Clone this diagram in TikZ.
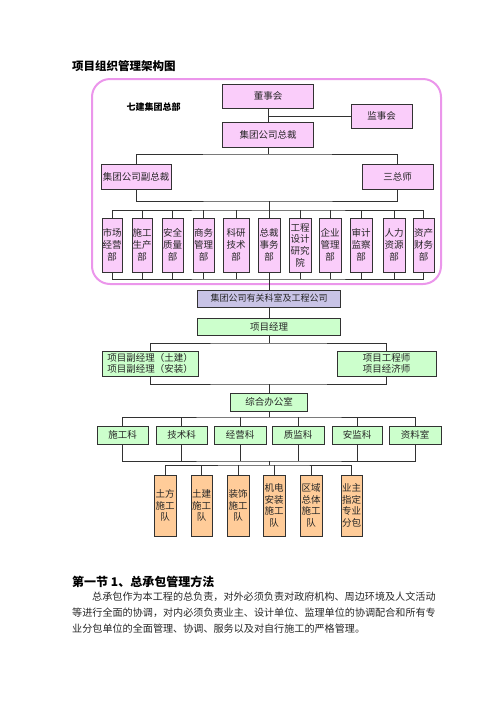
\documentclass[tikz,border=0pt]{standalone}
\usepackage{fontspec}
\setmainfont{Noto Sans CJK SC}
\definecolor{pinkfill}{RGB}{250,205,250}
\definecolor{pinkline}{RGB}{235,150,235}
\definecolor{purplefill}{RGB}{200,195,230}
\definecolor{greenfill}{RGB}{204,255,204}
\definecolor{orangefill}{RGB}{255,204,153}
\definecolor{boxline}{RGB}{50,50,50}
\begin{document}
\begin{tikzpicture}[x=1pt,y=-1pt,
		box/.style={draw=boxline, line width=0.8pt, inner sep=0pt, align=center, text=black!85, font=\fontsize{9.5}{11.7}\selectfont},
		pinkbox/.style={box, fill=pinkfill},
		purplebox/.style={box, fill=purplefill, font=\fontsize{9}{11}\selectfont},
		greenbox/.style={box, fill=greenfill},
		orangebox/.style={box, fill=orangefill},
		link/.style={draw=boxline, line width=0.8pt},
		plain/.style={anchor=west, inner sep=0pt, text=black!85, font=\fontsize{10.1}{12}\selectfont}]
		\useasboundingbox (0,0) rectangle (496,702);
		\node[anchor=west, inner sep=0pt, font=\bfseries\fontsize{11.5}{13}\selectfont] (title) at (72,66) {项目组织管理架构图};
		\draw[pinkline, line width=2pt, rounded corners=18pt] (92,79) rectangle (441,284);
		\node[inner sep=0pt, font=\bfseries\fontsize{9}{11}\selectfont] (hq) at (153.5,107) {七建集团总部};
		\node[pinkbox, minimum width=91, minimum height=24] (dsh) at (268,96) {董事会};
		\node[pinkbox, minimum width=61, minimum height=24] (jsh) at (381.5,116) {监事会};
		\node[pinkbox, minimum width=91, minimum height=25] (zc) at (268,134.5) {集团公司总裁};
		\node[pinkbox, minimum width=70, minimum height=25] (fzc) at (136,176.5) {集团公司副总裁};
		\node[pinkbox, minimum width=71, minimum height=25] (szs) at (397.5,176.5) {三总师};
		\node[pinkbox, minimum width=20, minimum height=54] (d1) at (112,245) {市场\\经营\\部};
		\node[pinkbox, minimum width=20, minimum height=54] (d2) at (142,245) {施工\\生产\\部};
		\node[pinkbox, minimum width=21, minimum height=54] (d3) at (172.5,245) {安全\\质量\\部};
		\node[pinkbox, minimum width=21, minimum height=54] (d4) at (203.5,245) {商务\\管理\\部};
		\node[pinkbox, minimum width=26, minimum height=54] (d5) at (236,245) {科研\\技术\\部};
		\node[pinkbox, minimum width=22, minimum height=54] (d6) at (269,245) {总裁\\事务\\部};
		\node[pinkbox, minimum width=22, minimum height=54] (d7) at (300,245) {工程\\设计\\研究\\院};
		\node[pinkbox, minimum width=22, minimum height=54] (d8) at (330,245) {企业\\管理\\部};
		\node[pinkbox, minimum width=22, minimum height=54] (d9) at (361,245) {审计\\监察\\部};
		\node[pinkbox, minimum width=22, minimum height=54] (d10) at (394,245) {人力\\资源\\部};
		\node[pinkbox, minimum width=21, minimum height=54] (d11) at (423.5,245) {资产\\财务\\部};
		\node[purplebox, minimum width=143, minimum height=17] (gs) at (269,298.5) {集团公司有关科室及工程公司};
		\node[greenbox, minimum width=143, minimum height=17] (xm) at (269,326.5) {项目经理};
		\node[greenbox, minimum width=96, minimum height=25] (fjl) at (150,363.5) {项目副经理（土建）\\项目副经理（安装）};
		\node[greenbox, minimum width=99, minimum height=25] (gcs) at (386.5,363.5) {项目工程师\\项目经济师};
		\node[greenbox, minimum width=77, minimum height=18] (zh) at (269,402) {综合办公室};
		\node[greenbox, minimum width=51, minimum height=18] (k1) at (122.5,435) {施工科};
		\node[greenbox, minimum width=51, minimum height=18] (k2) at (181.5,435) {技术科};
		\node[greenbox, minimum width=52, minimum height=18] (k3) at (240,435) {经营科};
		\node[greenbox, minimum width=52, minimum height=18] (k4) at (298,435) {质监科};
		\node[greenbox, minimum width=50, minimum height=18] (k5) at (357,435) {安监科};
		\node[greenbox, minimum width=52, minimum height=18] (k6) at (415,435) {资料室};
		\node[orangebox, minimum width=22, minimum height=61] (t1) at (165,505.5) {土方\\施工\\队};
		\node[orangebox, minimum width=21, minimum height=61] (t2) at (201.5,505.5) {土建\\施工\\队};
		\node[orangebox, minimum width=22, minimum height=61] (t3) at (238,505.5) {装饰\\施工\\队};
		\node[orangebox, minimum width=22, minimum height=61] (t4) at (274,505.5) {机电\\安装\\施工\\队};
		\node[orangebox, minimum width=22, minimum height=61] (t5) at (311,505.5) {区域\\总体\\施工\\队};
		\node[orangebox, minimum width=21, minimum height=61] (t6) at (351.5,505.5) {业主\\指定\\专业\\分包};
		\coordinate (busZ) at (268,154);
		\coordinate (busA) at (269,201);
		\coordinate (busB) at (269,210);
		\coordinate (busC) at (269,279);
		\coordinate (busD) at (269,343);
		\coordinate (busE) at (269,384);
		\coordinate (busF) at (269,417);
		\coordinate (busG) at (269,461);
		\coordinate (busH) at (269,465);
		\draw[link] (dsh) -- (zc);
		\draw[link] (jsh.west) -- (jsh.west -| dsh);
		\draw[link] (zc) -- (busZ);
		\draw[link] (fzc.north) |- (busZ) -| (szs.north);
		\draw[link] (fzc.south) |- (busA) -| (szs.south);
		\draw[link] (busA) -- (busB);
		\draw[link] (d1.north) |- (busB) -| (d11.north);
		\draw[link] (d1.south) |- (busC) -| (d11.south);
		\foreach \i in {2,...,10} {
			\draw[link] (d\i.north) -- (d\i.north |- busB);
			\draw[link] (d\i.south) -- (d\i.south |- busC);
		}
		\draw[link] (busC) -- (gs);
		\draw[link] (gs) -- (xm);
		\draw[link] (xm) -- (busD);
		\draw[link] (fjl.north) |- (busD) -| (gcs.north);
		\draw[link] (fjl.south) |- (busE) -| (gcs.south);
		\draw[link] (busE) -- (zh);
		\draw[link] (zh) -- (busF);
		\draw[link] (k1.north) |- (busF) -| (k6.north);
		\draw[link] (k1.south) |- (busG) -| (k6.south);
		\foreach \i in {2,...,5} {
			\draw[link] (k\i.north) -- (k\i.north |- busF);
			\draw[link] (k\i.south) -- (k\i.south |- busG);
			\draw[link] (t\i.north) -- (t\i.north |- busH);
		}
		\draw[link] (busG) -- (busH);
		\draw[link] (t1.north) |- (busH) -| (t6.north);
		\node[anchor=west, inner sep=0pt, font=\bfseries\fontsize{12}{14}\selectfont] (sec) at (72,582) {第一节 1、总承包管理方法};
		\node[plain] (p1) at (92,597) {总承包作为本工程的总负责，对外必须负责对政府机构、周边环境及人文活动};
		\node[plain] (p2) at (72,613) {等进行全面的协调，对内必须负责业主、设计单位、监理单位的协调配合和所有专};
		\node[plain] (p3) at (72,629) {业分包单位的全面管理、协调、服务以及对自行施工的严格管理。};
	\end{tikzpicture}
\end{document}
